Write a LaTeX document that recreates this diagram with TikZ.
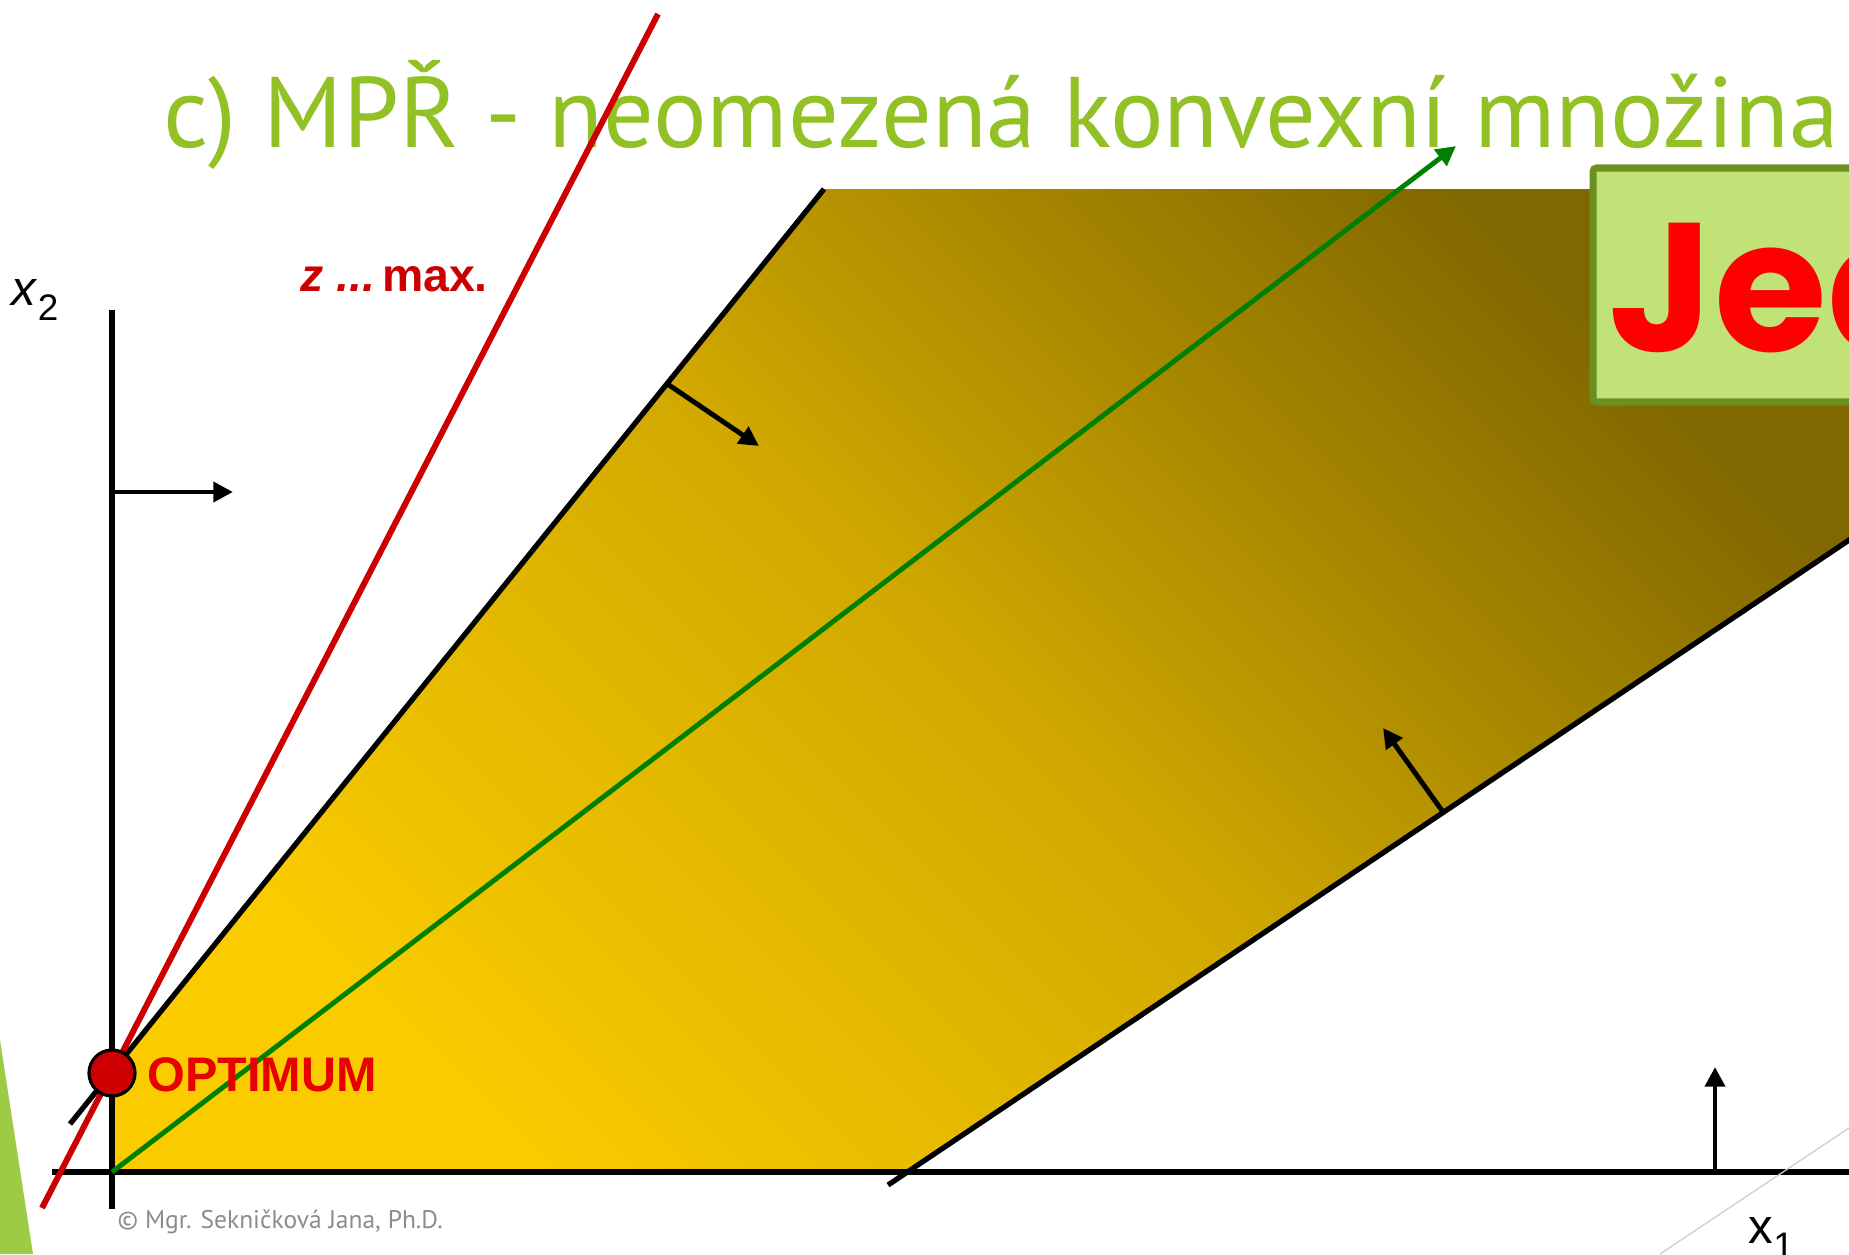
\documentclass[tikz,border=0pt]{standalone}
\usepackage{fontspec}
\setmainfont{Liberation Sans}
\newfontfamily\titlefont{PT Sans}
\newfontfamily\boxfont{Poppins}
\usetikzlibrary{arrows.meta}
\definecolor{titlegreen}{HTML}{92C126}
\definecolor{wedgegreen}{HTML}{9DCB46}
\definecolor{regyellow}{HTML}{FACC00}
\definecolor{regmid}{HTML}{D0A800}
\definecolor{regdark}{HTML}{806700}
\definecolor{boxline}{HTML}{6B9020}
\definecolor{boxfill}{HTML}{C0E277}
\definecolor{optred}{HTML}{CC0000}
\definecolor{labred}{HTML}{E60000}
\definecolor{linegreen}{HTML}{008000}

\begin{document}
\begin{tikzpicture}[x=0.01cm,y=-0.01cm,>={Triangle[length=5.6pt,width=5.6pt]},
  every node/.style={inner sep=0pt},
  axis/.style={line width=1.7pt},
  bound/.style={line width=1.5pt},
  normal/.style={line width=1.4pt,->}]
\useasboundingbox (0,0) rectangle (1849,1254);
\clip (0,0) rectangle (1849,1254);
\fill[wedgegreen] (0,1040) -- (33,1254) -- (0,1254) -- cycle;
\node[anchor=base west,text=titlegreen,font=\titlefont\fontsize{28.5}{34}\selectfont] (title) at (163,147) {c) MPŘ - neomezená konvexní množina};
\coordinate (O) at (112,1172);
\coordinate (opt) at (112,1073);
\coordinate (ytop) at (112,310);
\coordinate (ybot) at (112,1209);
\coordinate (xleft) at (52,1172);
\coordinate (xright) at (1870,1172);
\coordinate (lb) at (70,1124);
\coordinate (lt) at (824,189);
\coordinate (rb) at (888,1185);
\coordinate (rt) at (1870,526);
\coordinate (rx) at (907,1172);
\shade[top color=regdark,bottom color=regyellow,middle color=regmid,shading angle=-45] (O) -- (opt) -- (lt) -- (1870,189) -- (rt) -- (rx) -- cycle;
\draw[boxline,fill=boxfill,line width=2pt,rounded corners=1pt] (1593,168) rectangle (1890,402);
\node[anchor=base west,text=red,font=\boxfont\bfseries\fontsize{52}{60}\selectfont] (jed) at (1608,351) {Jed};
\draw[axis] (ybot) -- (ytop);
\draw[axis] (xleft) -- (xright);
\draw[bound] (lb) -- (lt);
\draw[bound] (rb) -- (rt);
\coordinate (n1a) at (666,383);
\coordinate (n1b) at (759,446);
\coordinate (n2a) at (1443,812);
\coordinate (n2b) at (1383,728);
\coordinate (n3a) at (112,492);
\coordinate (n3b) at (233,492);
\coordinate (n4a) at (1715,1172);
\coordinate (n4b) at (1715,1067);
\draw[normal] (n1a) -- (n1b);
\draw[normal] (n2a) -- (n2b);
\draw[normal] (n3a) -- (n3b);
\draw[normal] (n4a) -- (n4b);
\coordinate (gtip) at (1456,146);
\draw[linegreen,line width=1.4pt,->] (O) -- (gtip);
\coordinate (ra) at (42,1208);
\coordinate (rz) at (658,14);
\draw[optred,line width=1.7pt] (ra) -- (rz);
\node[circle,fill=optred,draw=black,line width=0.9pt,minimum size=0.46cm] (optdot) at (opt) {};
\node[anchor=west,text=labred,font=\bfseries\fontsize{13.8}{16}\selectfont] (optlabel) at (147,1075) {OPTIMUM};
\node[anchor=base west,text=optred,font=\bfseries\fontsize{13.2}{16}\selectfont] (zmax) at (300,291) {{\itshape z ...}\hspace{0.14em}max.};
\node[anchor=base west,font=\fontsize{14}{16}\selectfont] (xtwo) at (11,305) {\textit{x}\raisebox{-4.5pt}{\fontsize{10.5}{12}\selectfont 2}};
\node[anchor=base west,font=\fontsize{14}{16}\selectfont] (xone) at (1748,1243) {x\raisebox{-4.5pt}{\fontsize{10.5}{12}\selectfont 1}};
\coordinate (ga) at (1660,1254);
\coordinate (gb) at (1870,1114);
\draw[black!20,line width=0.35pt] (ga) -- (gb);
\node[anchor=base west,text=black!45,font=\titlefont\fontsize{7.25}{9}\selectfont] (copy) at (117,1228) {© Mgr. Sekničková Jana, Ph.D.};
\end{tikzpicture}
\end{document}
